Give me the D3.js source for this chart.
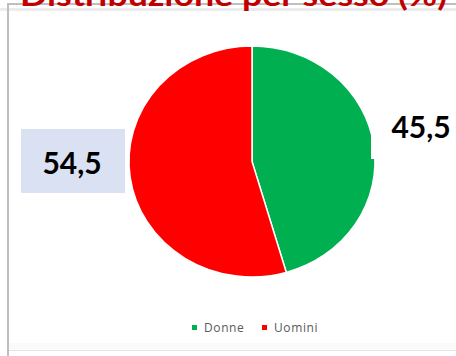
<!DOCTYPE html>
<html>
<head>
<meta charset="utf-8">
<script src="https://cdn.jsdelivr.net/npm/d3@7"></script>
<style>
  html, body { margin: 0; padding: 0; background: #fff; }
  svg { display: block; }
</style>
</head>
<body>
<svg id="chart" width="456" height="356"></svg>
<script>
// Gender split (%)
const categories = ["Donne", "Uomini"];
const values = [45.5, 54.5];
const labels = ["45,5", "54,5"];
const colors = ["#00B050", "#FF0000"];
const title = "Distribuzione per sesso (%)";

const svg = d3.select("#chart");

// Frame of the chart area
svg.append("rect").attr("x", 0).attr("y", 8).attr("width", 456).attr("height", 3).attr("fill", "#ececec");
svg.append("line").attr("x1", 8).attr("x2", 456).attr("y1", 4).attr("y2", 4)
  .attr("stroke", "#bfbfbf").attr("stroke-width", 2);
svg.append("line").attr("x1", 8).attr("x2", 8).attr("y1", 3).attr("y2", 356)
  .attr("stroke", "#bfbfbf").attr("stroke-width", 2);
svg.append("rect").attr("x", 9).attr("y", 343).attr("width", 447).attr("height", 6).attr("fill", "#fafafa");
svg.append("line").attr("x1", 9).attr("x2", 456).attr("y1", 350.5).attr("y2", 350.5)
  .attr("stroke", "#e3e3e3").attr("stroke-width", 1);

// Title (its upper part runs above the top edge)
svg.append("text")
  .attr("x", 20).attr("y", 6)
  .attr("font-family", "Lato, 'Open Sans', sans-serif")
  .attr("font-weight", "bold")
  .attr("font-size", 31)
  .attr("fill", "#C00000")
  .attr("textLength", 427)
  .attr("lengthAdjust", "spacingAndGlyphs")
  .text(title);

// Pie, slightly stretched horizontally
const cx = 252, cy = 161.5, ry = 115.5, rx = 123;
const pie = d3.pie().sort(null).value(d => d)(values);
const arc = d3.arc().innerRadius(0).outerRadius(ry);

const g = svg.append("g")
  .attr("transform", `translate(${cx},${cy}) scale(${rx / ry},1)`);
g.selectAll("path")
  .data(pie)
  .join("path")
  .attr("d", arc)
  .attr("fill", (d, i) => colors[i])
  .attr("stroke", "#fff")
  .attr("stroke-width", 1.5)
  .attr("vector-effect", "non-scaling-stroke");

// Data labels
const labelFont = "Lato, 'Open Sans', sans-serif";
// Donne label on a white box to the right
svg.append("rect").attr("x", 371).attr("y", 104).attr("width", 85).attr("height", 55).attr("fill", "#fff");
svg.append("text")
  .attr("x", 421).attr("y", 138)
  .attr("text-anchor", "middle")
  .attr("font-family", labelFont).attr("font-weight", "bold").attr("font-size", 30)
  .attr("fill", "#000")
  .text(labels[0]);

// Uomini label on a light blue box to the left
svg.append("rect").attr("x", 21).attr("y", 129).attr("width", 104).attr("height", 64).attr("fill", "#D9E1F2");
svg.append("text")
  .attr("x", 72).attr("y", 174)
  .attr("text-anchor", "middle")
  .attr("font-family", labelFont).attr("font-weight", "bold").attr("font-size", 30)
  .attr("fill", "#000")
  .text(labels[1]);

// Legend
const legendX = [192, 262];
const leg = svg.append("g");
categories.forEach((c, i) => {
  leg.append("rect").attr("x", legendX[i]).attr("y", 325).attr("width", 5).attr("height", 5).attr("fill", colors[i]);
  leg.append("text")
    .attr("x", legendX[i] + 12).attr("y", 332)
    .attr("font-family", "'Open Sans', sans-serif").attr("font-size", 12)
    .attr("letter-spacing", 0.6)
    .attr("fill", "#595959")
    .text(c);
});
</script>
</body>
</html>
